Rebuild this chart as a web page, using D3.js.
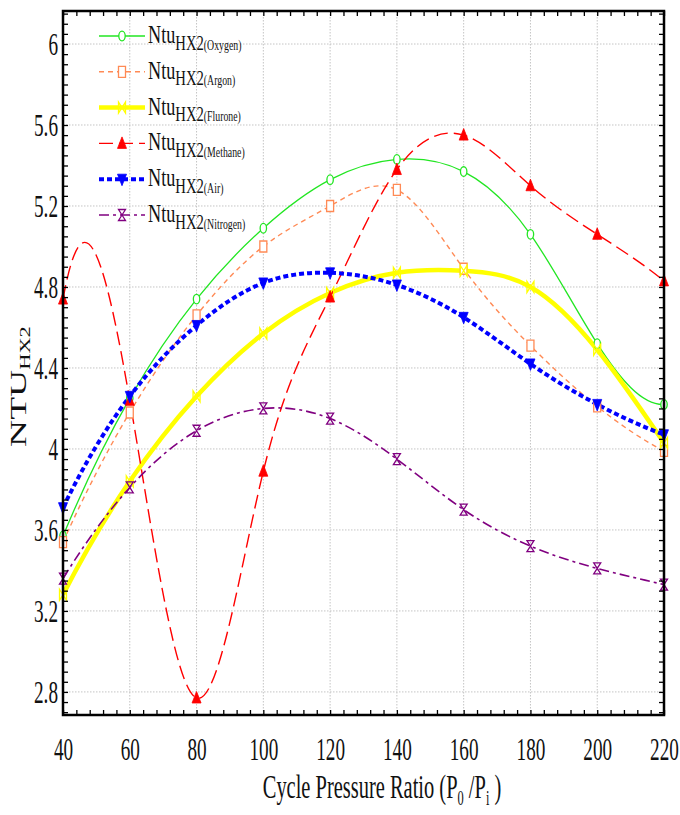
<!DOCTYPE html>
<html>
<head>
<meta charset="utf-8">
<script src="https://cdn.jsdelivr.net/npm/d3@7"></script>
<style>
  html, body { margin: 0; padding: 0; background: #ffffff; }
  svg text { font-family: "Liberation Serif", "Times New Roman", serif; fill: #111; }
</style>
</head>
<body>
<svg id="chart" width="680" height="815"></svg>
<script>
// Cycle pressure ratio (x) and NTU of heat exchanger 2 for each working fluid
const pressureRatio = [40, 60, 80, 100, 120, 140, 160, 180, 200, 220];
const ntuOxygen   = [3.57, 4.25, 4.74, 5.09, 5.33, 5.43, 5.37, 5.06, 4.52, 4.22];
const ntuArgon    = [3.54, 4.18, 4.66, 5.00, 5.20, 5.28, 4.89, 4.51, 4.21, 3.99];
const ntuFlurone  = [3.28, 3.84, 4.26, 4.57, 4.77, 4.87, 4.88, 4.80, 4.49, 4.03];
const ntuMethane  = [4.74, 4.24, 2.77, 3.89, 4.75, 5.38, 5.55, 5.30, 5.06, 4.83];
const ntuAir      = [3.71, 4.26, 4.61, 4.82, 4.87, 4.81, 4.65, 4.42, 4.22, 4.07];
const ntuNitrogen = [3.36, 3.81, 4.09, 4.20, 4.15, 3.95, 3.70, 3.52, 3.41, 3.33];

const fluidNames = ["Oxygen", "Argon", "Flurone", "Methane", "Air", "Nitrogen"];
const xTickValues = [40, 60, 80, 100, 120, 140, 160, 180, 200, 220];
const yTickValues = [2.8, 3.2, 3.6, 4, 4.4, 4.8, 5.2, 5.6, 6];
const yTickLabels = ["2.8", "3.2", "3.6", "4", "4.4", "4.8", "5.2", "5.6", "6"];

const seriesValues = [ntuOxygen, ntuArgon, ntuFlurone, ntuMethane, ntuAir, ntuNitrogen];

// Visual style of each series
const styles = [
  { color: "#22e622", width: 1.3, dash: null,       marker: "circle"    },
  { color: "#ff8a55", width: 1.4, dash: "5,4",      marker: "square"    },
  { color: "#ffff00", width: 4.5, dash: null,       marker: "bowtie"    },
  { color: "#ff0000", width: 1.4, dash: "14,6",     marker: "triUp"     },
  { color: "#0000ff", width: 4.0, dash: "5,3",      marker: "triDown"   },
  { color: "#800080", width: 1.6, dash: "10,4,3,4", marker: "hourglass" }
];

const plot = { left: 63, right: 664, top: 11, bottom: 715 };

const svg = d3.select("#chart");

const x = d3.scaleLinear().domain([40, 220]).range([plot.left, plot.right]);
const y = d3.scaleLinear().domain([2.686, 6.163]).range([plot.bottom, plot.top]);

// Cubic spline curve with "not-a-knot" end conditions, emitted as exact Bezier segments
function solveDense(A, b) {
  const n = b.length;
  for (let c = 0; c < n; c++) {
    let p = c;
    for (let r = c + 1; r < n; r++) if (Math.abs(A[r][c]) > Math.abs(A[p][c])) p = r;
    [A[c], A[p]] = [A[p], A[c]]; [b[c], b[p]] = [b[p], b[c]];
    for (let r = c + 1; r < n; r++) {
      const f = A[r][c] / A[c][c];
      for (let k = c; k < n; k++) A[r][k] -= f * A[c][k];
      b[r] -= f * b[c];
    }
  }
  const out = new Array(n).fill(0);
  for (let r = n - 1; r >= 0; r--) {
    let s = b[r];
    for (let k = r + 1; k < n; k++) s -= A[r][k] * out[k];
    out[r] = s / A[r][r];
  }
  return out;
}
function NotAKnot(context) { this._context = context; }
NotAKnot.prototype = {
  areaStart() { this._line = 0; },
  areaEnd() { this._line = NaN; },
  lineStart() { this._x = []; this._y = []; },
  point(px, py) { this._x.push(+px); this._y.push(+py); },
  lineEnd() {
    const X = this._x, Y = this._y, n = X.length, ctx = this._context;
    if (!n) return;
    ctx.moveTo(X[0], Y[0]);
    if (n < 4) { for (let i = 1; i < n; i++) ctx.lineTo(X[i], Y[i]); return; }
    const h = d3.range(n - 1).map(i => X[i + 1] - X[i]);
    const A = d3.range(n).map(() => new Array(n).fill(0));
    const b = new Array(n).fill(0);
    A[0][0] = h[1]; A[0][1] = -(h[0] + h[1]); A[0][2] = h[0];
    for (let i = 1; i < n - 1; i++) {
      A[i][i - 1] = h[i - 1]; A[i][i] = 2 * (h[i - 1] + h[i]); A[i][i + 1] = h[i];
      b[i] = 6 * ((Y[i + 1] - Y[i]) / h[i] - (Y[i] - Y[i - 1]) / h[i - 1]);
    }
    A[n - 1][n - 3] = h[n - 2]; A[n - 1][n - 2] = -(h[n - 3] + h[n - 2]); A[n - 1][n - 1] = h[n - 3];
    const M = solveDense(A, b);
    for (let i = 0; i < n - 1; i++) {
      const s = (Y[i + 1] - Y[i]) / h[i];
      const m0 = s - h[i] * (2 * M[i] + M[i + 1]) / 6;
      const m1 = s + h[i] * (M[i] + 2 * M[i + 1]) / 6;
      ctx.bezierCurveTo(
        X[i] + h[i] / 3, Y[i] + m0 * h[i] / 3,
        X[i + 1] - h[i] / 3, Y[i + 1] - m1 * h[i] / 3,
        X[i + 1], Y[i + 1]);
    }
  }
};
const curveNotAKnot = context => new NotAKnot(context);

// Clip for the curves
svg.append("defs").append("clipPath").attr("id", "plotClip")
  .append("rect")
  .attr("x", plot.left).attr("y", plot.top)
  .attr("width", plot.right - plot.left).attr("height", plot.bottom - plot.top);

// Dotted grid at major ticks
const grid = svg.append("g").attr("class", "grid");
grid.selectAll("line.h").data(yTickValues).join("line")
  .attr("class", "h")
  .attr("x1", plot.left).attr("x2", plot.right)
  .attr("y1", d => y(d)).attr("y2", d => y(d))
  .attr("stroke", "#c4c4c4").attr("stroke-width", 1).attr("stroke-dasharray", "1.5,1.5");
grid.selectAll("line.v").data(xTickValues.slice(1, -1)).join("line")
  .attr("class", "v")
  .attr("y1", plot.top).attr("y2", plot.bottom)
  .attr("x1", d => x(d)).attr("x2", d => x(d))
  .attr("stroke", "#c4c4c4").attr("stroke-width", 1).attr("stroke-dasharray", "1.5,1.5");

// Marker shapes
function markerPath(kind) {
  switch (kind) {
    case "bowtie":    return "M-3.5,-5.5L3.5,5.5L3.5,-5.5L-3.5,5.5Z";
    case "hourglass": return "M-3.5,-5.5L3.5,-5.5L-3.5,5.5L3.5,5.5Z";
    case "triUp":     return "M0,-6.5L4.5,5L-4.5,5Z";
    case "triDown":   return "M0,6.5L4.5,-5L-4.5,-5Z";
    case "square":    return "M-3.5,-5.5H3.5V5.5H-3.5Z";
  }
  return null;
}
function drawMarker(g, kind, color) {
  if (kind === "circle") {
    g.append("ellipse").attr("rx", 3.2).attr("ry", 4.8)
      .attr("fill", "#fff").attr("stroke", color).attr("stroke-width", 1.3);
    return;
  }
  const filled = kind === "triUp" || kind === "triDown";
  g.append("path").attr("d", markerPath(kind))
    .attr("fill", filled ? color : (kind === "square" ? "#fff" : "none"))
    .attr("stroke", color).attr("stroke-width", filled ? 0.8 : 1.3)
    .attr("stroke-linejoin", "miter");
}

// Curves
const line = d3.line()
  .x(d => x(d[0]))
  .y(d => y(d[1]))
  .curve(curveNotAKnot);

const curves = svg.append("g").attr("clip-path", "url(#plotClip)");
seriesValues.forEach((vals, i) => {
  const st = styles[i];
  const pts = pressureRatio.map((p, k) => [p, vals[k]]);
  curves.append("path")
    .attr("d", line(pts))
    .attr("fill", "none")
    .attr("stroke", st.color)
    .attr("stroke-width", st.width)
    .attr("stroke-dasharray", st.dash)
    .attr("stroke-linecap", "butt");
});

// Markers at the data points
const markers = svg.append("g");
seriesValues.forEach((vals, i) => {
  const st = styles[i];
  pressureRatio.forEach((p, k) => {
    const g = markers.append("g").attr("transform", `translate(${x(p)},${y(vals[k])})`);
    drawMarker(g, st.marker, st.color);
  });
});

// Minor ticks pointing inward on all four sides
const minorX = d3.range(40, 220.01, 4);
const minorY = d3.range(2.7, 6.16, 0.05);
const tickLen = 5;

function tickAxis(axis, translate) {
  const g = svg.append("g").attr("transform", translate).call(axis);
  g.select(".domain").remove();
  g.selectAll(".tick line").attr("stroke", "#000").attr("stroke-width", 1.3);
  return g;
}
tickAxis(d3.axisBottom(x).tickValues(minorX).tickSize(-tickLen).tickFormat(""), `translate(0,${plot.bottom})`);
tickAxis(d3.axisTop(x).tickValues(minorX).tickSize(-tickLen).tickFormat(""), `translate(0,${plot.top})`);
tickAxis(d3.axisLeft(y).tickValues(minorY).tickSize(-tickLen).tickFormat(""), `translate(${plot.left},0)`);
tickAxis(d3.axisRight(y).tickValues(minorY).tickSize(-tickLen).tickFormat(""), `translate(${plot.right},0)`);

// Frame
svg.append("rect")
  .attr("x", plot.left).attr("y", plot.top)
  .attr("width", plot.right - plot.left).attr("height", plot.bottom - plot.top)
  .attr("fill", "none").attr("stroke", "#000").attr("stroke-width", 2.5);

// Tick labels (narrow serif face)
const labelScale = 0.6;
const xLab = svg.append("g").attr("transform", `translate(0,${plot.bottom})`)
  .call(d3.axisBottom(x).tickValues(xTickValues).tickSize(0).tickFormat(d3.format("d")));
xLab.select(".domain").remove();
xLab.selectAll("text")
  .attr("font-family", "Liberation Serif, Times New Roman, serif")
  .attr("font-size", 32).attr("fill", "#111")
  .attr("y", 45).attr("dy", 0)
  .attr("transform", `scale(${labelScale},1)`);

const yLab = svg.append("g").attr("transform", `translate(${plot.left},0)`)
  .call(d3.axisLeft(y).tickValues(yTickValues).tickSize(0)
    .tickFormat((d, i) => yTickLabels[i]));
yLab.select(".domain").remove();
yLab.selectAll("text")
  .attr("font-family", "Liberation Serif, Times New Roman, serif")
  .attr("font-size", 32).attr("fill", "#111")
  .attr("x", -5 / labelScale).attr("dy", "0.33em")
  .attr("transform", `scale(${labelScale},1)`);

// X axis title
const xt = svg.append("g").attr("transform", "translate(382,798) scale(0.62,1)")
  .append("text").attr("text-anchor", "middle").attr("font-size", 33);
xt.append("tspan").text("Cycle Pressure Ratio (P");
xt.append("tspan").attr("font-size", 20).attr("dy", 7).text("0");
xt.append("tspan").attr("dy", -7).text(" /P");
xt.append("tspan").attr("font-size", 20).attr("dy", 7).text("i");
xt.append("tspan").attr("dy", -7).text(" )");

// Y axis title (rotated)
const yt = svg.append("g").attr("transform", "translate(26,447) rotate(-90) scale(1.6,1)")
  .append("text").attr("text-anchor", "start").attr("font-size", 23.5);
yt.append("tspan").text("NTU");
yt.append("tspan").attr("font-size", 14).attr("dy", 4).text("HX2");

// Legend
const legend = svg.append("g");
fluidNames.forEach((name, i) => {
  const st = styles[i];
  const ry = 36 + i * 35.8;
  const row = legend.append("g");
  row.append("line")
    .attr("x1", 99).attr("x2", 145).attr("y1", ry).attr("y2", ry)
    .attr("stroke", st.color).attr("stroke-width", st.width)
    .attr("stroke-dasharray", st.dash);
  drawMarker(row.append("g").attr("transform", `translate(122,${ry})`), st.marker, st.color);
  const t = row.append("g").attr("transform", `translate(148,${ry + 7}) scale(0.7,1)`)
    .append("text").attr("font-size", 26);
  t.append("tspan").text("Ntu");
  t.append("tspan").attr("font-size", 21).attr("dy", 6.5).text("HX2");
  t.append("tspan").attr("font-size", 14).text(`(${name})`);
});
</script>
</body>
</html>
